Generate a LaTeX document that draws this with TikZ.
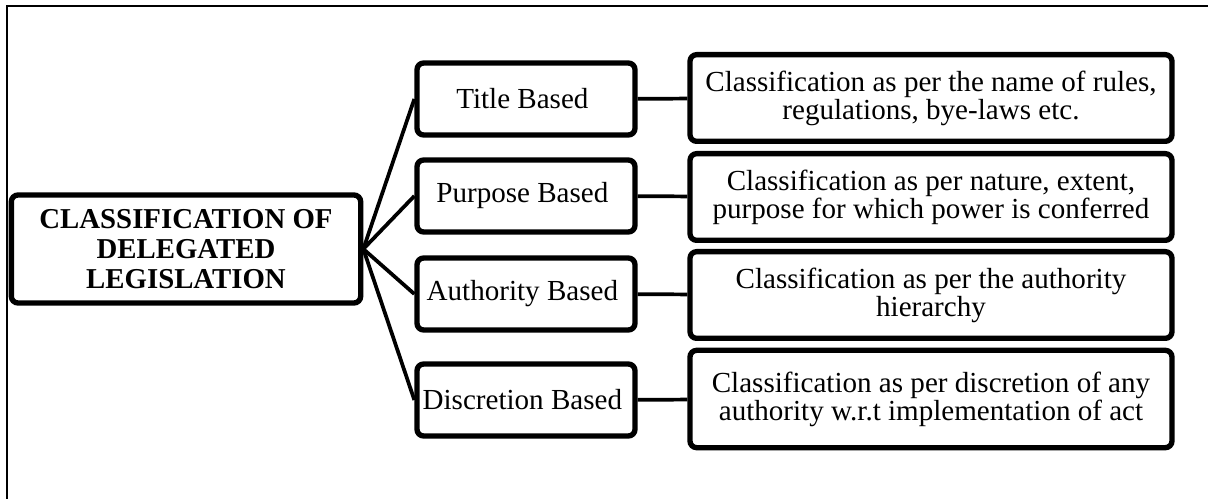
\documentclass[tikz,border=0pt]{standalone}
\usepackage{fontspec}
\setmainfont{Liberation Serif}
\usetikzlibrary{positioning}
\usetikzlibrary{shadows}

\begin{document}
\begin{tikzpicture}[x = 0.75pt, y = -0.75pt]
  \tikzstyle{root}=[
      rectangle, rounded corners = 5pt, line width = 4pt
    , draw = black, fill = white, align = center
    , minimum width = 262pt, minimum height = 81pt
    , font = \fontsize{21.6}{22.5}\selectfont\bfseries
    , drop shadow = {shadow xshift = 1pt, shadow yshift = -1.5pt, opacity = 0.2}
    ]
  \tikzstyle{branch}=[
      rectangle, rounded corners = 5pt, line width = 4pt
    , draw = black, fill = white, align = center
    , minimum width = 163.5pt, minimum height = 54pt
    , font = \fontsize{21.8}{21}\selectfont
    , drop shadow = {shadow xshift = 1pt, shadow yshift = -1.5pt, opacity = 0.2}
    ]
  \tikzstyle{leaf}=[
      rectangle, rounded corners = 5pt, line width = 4pt
    , draw = black, fill = white, align = center
    , minimum width = 361.5pt, minimum height = 65pt
    , font = \fontsize{21.8}{21}\selectfont
    , drop shadow = {shadow xshift = 1pt, shadow yshift = -1.5pt, opacity = 0.2}
    ]
  \tikzstyle{connect}=[line width = 2.8pt]

  \useasboundingbox (0,0) rectangle (1208,499);
  \draw[line width = 1.6pt] (7,499) -- (7,6) -- (1208,6);

  \node[root] (root) at (186,249)
    { CLASSIFICATION OF\\ DELEGATED\\ LEGISLATION };

  \node[branch] (title)      at (526,99)  { Title Based };
  \node[branch] (purpose)    at (526,196) { Purpose Based };
  \node[branch] (authority)  at (526,294) { Authority Based };
  \node[branch] (discretion) at (526,400) { Discretion Based };

  \node[leaf] (titledesc)      at (931,98)
    { Classification as per the name of rules,\\ regulations, bye-laws etc. };
  \node[leaf] (purposedesc)    at (931,197)
    { Classification as per nature, extent,\\ purpose for which power is conferred };
  \node[leaf] (authoritydesc)  at (931,295)
    { Classification as per the authority\\ hierarchy };
  \node[leaf, minimum height = 73pt] (discretiondesc) at (931,399)
    { Classification as per discretion of any\\ authority w.r.t implementation of act };

  \path (root.east) edge [connect] (title.west)
        (root.east) edge [connect] (purpose.west)
        (root.east) edge [connect] (authority.west)
        (root.east) edge [connect] (discretion.west);

  \path (title) edge [connect] (titledesc)
        (purpose) edge [connect] (purposedesc)
        (authority) edge [connect] (authoritydesc)
        (discretion) edge [connect] (discretiondesc);

\end{tikzpicture}
\end{document}
